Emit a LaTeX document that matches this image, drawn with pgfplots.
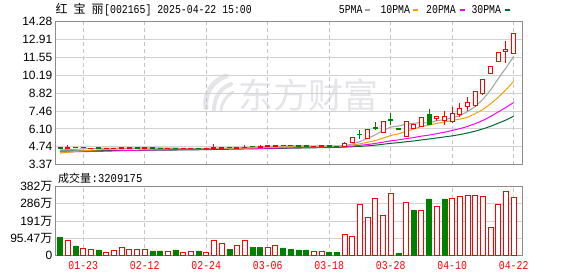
\documentclass[border=0pt]{standalone}
\usepackage{pgfplots}
\pgfplotsset{compat=1.18}
\usepackage{pgfplotstable}
\usepackage{graphicx}
\usepackage{fontspec}
\setmainfont{Liberation Sans}
\newfontfamily\cjk{Noto Sans CJK SC}
\newfontfamily\mono{Liberation Mono}
\definecolor{upred}{RGB}{255,0,0}
\definecolor{dngreen}{RGB}{0,128,0}
\definecolor{maA}{RGB}{160,160,160}
\definecolor{maB}{RGB}{240,160,0}
\definecolor{maC}{RGB}{255,0,255}
\definecolor{maD}{RGB}{0,105,50}
\definecolor{gridc}{RGB}{210,210,210}
\definecolor{vgridc}{RGB}{195,195,195}
\definecolor{framec}{RGB}{140,140,140}
\definecolor{wm}{RGB}{228,228,233}
\newcommand{\mt}[2][0.82]{\scalebox{#1}[1]{\fontsize{12bp}{12bp}\mono #2}}

\pgfplotstableread{
x o h l c
1 4.62 4.90 4.57 4.68
3 4.66 4.70 4.63 4.68
4 4.60 4.66 4.55 4.62
6 4.60 4.65 4.58 4.63
7 4.62 4.66 4.60 4.64
8 4.62 4.70 4.60 4.66
9 4.64 4.68 4.62 4.66
11 4.63 4.67 4.61 4.65
14 4.59 4.63 4.58 4.62
16 4.57 4.62 4.56 4.60
17 4.60 4.64 4.58 4.62
19 4.60 4.63 4.59 4.62
20 4.62 4.95 4.60 4.66
21 4.64 4.70 4.62 4.67
23 4.64 4.70 4.63 4.68
24 4.68 4.88 4.66 4.72
26 4.72 4.86 4.70 4.78
27 4.76 4.82 4.74 4.80
28 4.78 4.86 4.76 4.82
33 4.76 4.80 4.74 4.78
34 4.77 4.82 4.75 4.80
37 4.74 5.12 4.72 5.00
38 5.05 5.50 5.02 5.46
40 5.38 6.02 5.36 6.02
42 5.81 6.65 5.80 6.65
45 5.51 6.70 5.50 6.70
46 6.15 6.50 6.12 6.45
47 6.27 7.00 6.25 6.98
49 6.91 7.05 6.70 7.03
50 6.78 7.49 6.40 7.08
51 6.65 7.79 6.53 7.24
52 7.21 8.05 7.03 7.67
53 7.79 8.51 7.49 8.13
54 7.87 8.96 7.79 8.94
55 8.77 9.86 8.69 9.84
56 10.35 10.84 10.35 10.84
57 11.23 11.94 11.23 11.94
58 11.99 12.81 11.10 12.17
59 11.87 13.39 11.85 13.39
}\upc

\pgfplotstableread{
x o h l c
0 4.66 4.68 4.60 4.62
2 4.70 4.72 4.66 4.68
5 4.66 4.68 4.60 4.62
10 4.68 4.70 4.63 4.64
12 4.66 4.67 4.60 4.61
13 4.62 4.64 4.58 4.60
15 4.63 4.64 4.56 4.57
18 4.63 4.64 4.59 4.60
22 4.68 4.70 4.64 4.65
25 4.76 4.78 4.70 4.74
29 4.86 4.88 4.80 4.84
30 4.84 4.86 4.78 4.80
31 4.82 4.84 4.77 4.79
32 4.80 4.82 4.76 4.77
35 4.80 4.81 4.75 4.77
36 4.77 4.78 4.72 4.74
39 5.70 6.02 5.35 5.66
41 6.18 6.60 5.98 6.10
43 6.80 7.28 6.40 6.75
44 6.12 6.14 6.05 6.08
48 7.22 7.60 6.40 6.47
}\dnc

\pgfplotstableread{
x ma5 ma10 ma20 ma30
0 4.50 4.26 4.34 4.42
1 4.52 4.32 4.35 4.42
2 4.55 4.38 4.36 4.43
3 4.58 4.43 4.37 4.43
4 4.60 4.47 4.38 4.44
5 4.62 4.50 4.39 4.44
6 4.63 4.53 4.40 4.45
7 4.63 4.56 4.42 4.45
8 4.64 4.58 4.44 4.46
9 4.64 4.60 4.46 4.46
10 4.64 4.62 4.47 4.47
11 4.65 4.63 4.48 4.47
12 4.64 4.63 4.49 4.48
13 4.63 4.63 4.50 4.48
14 4.62 4.63 4.51 4.49
15 4.61 4.63 4.52 4.49
16 4.60 4.62 4.53 4.50
17 4.60 4.62 4.54 4.50
18 4.60 4.61 4.55 4.51
19 4.61 4.61 4.56 4.52
20 4.62 4.61 4.57 4.53
21 4.63 4.61 4.58 4.54
22 4.64 4.62 4.59 4.55
23 4.65 4.62 4.60 4.56
24 4.68 4.63 4.61 4.57
25 4.70 4.65 4.62 4.58
26 4.73 4.67 4.62 4.59
27 4.76 4.69 4.63 4.60
28 4.78 4.71 4.64 4.61
29 4.80 4.73 4.65 4.62
30 4.81 4.75 4.66 4.63
31 4.81 4.77 4.67 4.64
32 4.80 4.78 4.68 4.65
33 4.79 4.79 4.69 4.66
34 4.79 4.79 4.70 4.67
35 4.78 4.80 4.71 4.68
36 4.77 4.80 4.73 4.69
37 4.82 4.81 4.75 4.71
38 4.95 4.88 4.79 4.74
39 5.13 4.96 4.85 4.77
40 5.38 5.08 4.91 4.81
41 5.65 5.21 4.99 4.86
42 5.98 5.40 5.09 4.93
43 6.24 5.60 5.19 5.00
44 6.32 5.72 5.26 5.05
45 6.46 5.92 5.36 5.12
46 6.53 6.09 5.44 5.18
47 6.59 6.29 5.55 5.26
48 6.54 6.39 5.63 5.33
49 6.73 6.52 5.74 5.41
50 6.80 6.63 5.85 5.49
51 6.96 6.74 5.98 5.57
52 7.10 6.85 6.12 5.67
53 7.43 6.98 6.29 5.79
54 7.81 7.27 6.50 5.93
55 8.36 7.58 6.75 6.10
56 9.08 8.02 7.05 6.30
57 9.94 8.52 7.40 6.54
58 10.75 9.09 7.74 6.78
59 11.64 9.72 8.12 7.07
}\mas

\pgfplotstableread{
x v
1 80
3 39
4 35
6 17
7 26
8 45
9 33
10 30
11 30
14 22
16 17
17 22
19 17
20 80
21 63
23 57
24 80
27 46
28 54
33 22
34 22
37 117
38 106
39 284
40 212
41 318
42 223
43 345
45 295
47 251
49 273
51 318
52 329
53 334
54 334
55 329
56 156
57 284
58 356
59 321
}\upv

\pgfplotstableread{
x v
0 100
2 52
5 30
12 24
13 24
15 30
18 24
22 35
25 46
26 46
29 41
30 35
31 30
32 30
35 17
36 17
44 11
46 251
48 314
50 314
}\dnv

\pgfplotsset{kbase/.style={
  scale only axis, width=467bp, xmin=-0.61, xmax=60.15,
  axis line style={framec, line width=1.2bp},
  major tick length=0pt,
  xtick={3,11,19,27,35,43,51,59},
  xmajorgrids, ymajorgrids,
  major x grid style={vgridc, dash pattern=on 4bp off 3bp, line width=0.9bp},
  major y grid style={gridc, line width=1bp},
  yticklabel style={font=\fontsize{12bp}{12bp}\selectfont, inner sep=0pt, xshift=-3bp},
  axis on top=false,
}}

\begin{document}
\begin{tikzpicture}[x=1bp,y=1bp]
\useasboundingbox (0,0) rectangle (578,276);
% watermark
\node[anchor=west, inner sep=0pt, text=wm] at (238,181) {\fontsize{35bp}{35bp}\cjk 东方财富};
\draw[wm, line width=5bp, line cap=round] (206,168) .. controls (204,182) and (212,195) .. (226,200);
\draw[wm, line width=4bp, line cap=round] (214,166) .. controls (214,178) and (220,188) .. (231,192);
\draw[wm, line width=3bp, line cap=round] (221,166) .. controls (222,174) and (226,180) .. (233,184);

% title
\node[anchor=base west, inner sep=0pt] at (55.5,263) {\fontsize{12bp}{12bp}\cjk 红};
\node[anchor=base west, inner sep=0pt] at (73.5,263) {\fontsize{12bp}{12bp}\cjk 宝};
\node[anchor=base west, inner sep=0pt] at (91.5,263) {\fontsize{12bp}{12bp}\cjk 丽};
\node[anchor=base west, inner sep=0pt] at (104,263) {\mt{[002165] 2025-04-22 15:00}};
% legend
\node[anchor=base west, inner sep=0pt] at (338.7,263) {\mt{5PMA}};
\fill[maA] (365.3,265.3) rectangle (370.3,267.3);
\node[anchor=base west, inner sep=0pt] at (380.3,263) {\mt{10PMA}};
\fill[maB] (413,265.3) rectangle (418,267.3);
\node[anchor=base west, inner sep=0pt] at (426,263) {\mt{20PMA}};
\fill[maC] (459.7,265.3) rectangle (464.7,267.3);
\node[anchor=base west, inner sep=0pt] at (471.3,263) {\mt{30PMA}};
\fill[maD] (505,265.3) rectangle (510,267.3);

% price panel
\begin{axis}[kbase, at={(55.5bp,111.3bp)}, anchor=south west, height=143bp,
  ymin=3.37, ymax=14.28,
  ytick={3.37,4.74,6.10,7.46,8.82,10.19,11.55,12.91,14.28},
  yticklabels={3.37,4.74,6.10,7.46,8.82,10.19,11.55,12.91,14.28},
  xticklabels={}]
\addplot[maD, line width=1bp] table[x=x,y=ma30] {\mas};
\addplot[maC, line width=1bp] table[x=x,y=ma20] {\mas};
\addplot[maB, line width=1bp] table[x=x,y=ma10] {\mas};
\addplot[maA, line width=1bp] table[x=x,y=ma5] {\mas};
% down candles
\addplot[dngreen, line width=1bp, quiver={u=0, v=\thisrow{h}-\thisrow{l}}] table[x=x, y=l] {\dnc};
\addplot[dngreen, line width=5bp, quiver={u=0, v={abs(\thisrow{c}-\thisrow{o})+0.076}}] table[x=x, y expr={min(\thisrow{o},\thisrow{c})-0.038}] {\dnc};
% up candles
\addplot[upred, line width=1bp, quiver={u=0, v=\thisrow{h}-\thisrow{l}}] table[x=x, y=l] {\upc};
\addplot[upred, line width=5bp, quiver={u=0, v={abs(\thisrow{c}-\thisrow{o})+0.076}}] table[x=x, y expr={min(\thisrow{o},\thisrow{c})-0.038}] {\upc};
\addplot[white, line width=3bp, quiver={u=0, v={max(abs(\thisrow{c}-\thisrow{o})-0.076,0)}}] table[x=x, y expr={min(\thisrow{o},\thisrow{c})+0.038}] {\upc};
\end{axis}

\node[anchor=base west, inner sep=0pt] at (58,93.6) {\fontsize{11bp}{11bp}\cjk 成交量};
\node[anchor=base west, inner sep=0pt] at (91.5,93.6) {\mt[0.88]{:3209175}};

% volume panel
\begin{axis}[kbase, at={(55.5bp,20.7bp)}, anchor=south west, height=68.6bp,
  ymin=0, ymax=381.88,
  ytick={0,95.47,190.94,286.41,381.88},
  yticklabels={0,95.47{\cjk 万},191{\cjk 万},286{\cjk 万},382{\cjk 万}},
  xticklabels={\mt{01-23},\mt{02-12},\mt{02-24},\mt{03-06},\mt{03-18},\mt{03-28},\mt{04-10},\mt{04-22}},
  xticklabel style={text=upred, inner sep=0pt, yshift=-6bp}]
\addplot[ybar, bar width=5bp, bar shift=0pt, draw=upred, fill=white, line width=1bp] table[x=x,y=v] {\upv};
\addplot[ybar, bar width=5bp, bar shift=0pt, draw=dngreen, fill=dngreen, line width=0.5bp] table[x=x,y=v] {\dnv};
\end{axis}
\end{tikzpicture}
\end{document}
